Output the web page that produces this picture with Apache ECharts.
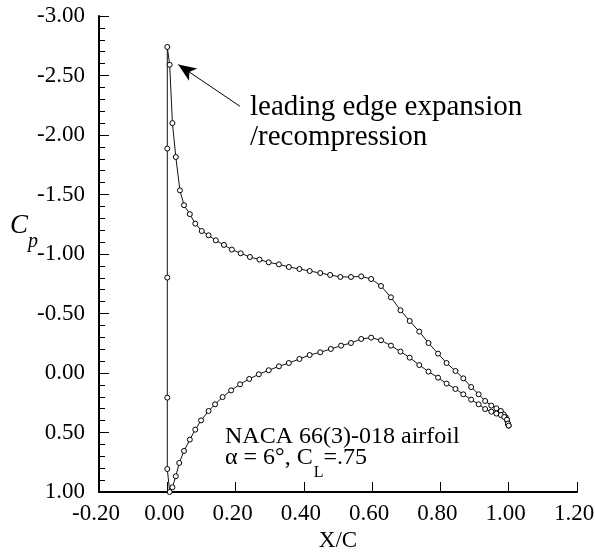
<!DOCTYPE html>
<html>
<head>
<meta charset="utf-8">
<script src="https://cdn.jsdelivr.net/npm/echarts@6/dist/echarts.min.js"></script>
<style>
  html, body { margin: 0; padding: 0; background: #fff; }
  #chart { width: 595px; height: 552px; }
</style>
</head>
<body>
<div id="chart"></div>
<script>
// Surface pressure coefficient, NACA 66(3)-018 at 6 deg.
// Upper surface, from just aft of the leading edge to the trailing edge.
const upperX = [0.007, 0.015, 0.025, 0.037, 0.049, 0.066, 0.082, 0.101, 0.121, 0.142,
  0.166, 0.189, 0.215, 0.242, 0.270, 0.297, 0.327, 0.356, 0.387, 0.417,
  0.448, 0.477, 0.507, 0.538, 0.568, 0.597, 0.626, 0.655, 0.683, 0.710,
  0.738, 0.765, 0.793, 0.818, 0.844, 0.867, 0.890, 0.912, 0.931, 0.949,
  0.964, 0.977, 0.985, 0.991, 0.995, 0.998, 1.000];
const upperCp = [-2.59, -2.10, -1.815, -1.535, -1.41, -1.335, -1.255, -1.193, -1.157, -1.115,
  -1.076, -1.037, -1.006, -0.975, -0.953, -0.930, -0.913, -0.891, -0.874, -0.857,
  -0.840, -0.824, -0.807, -0.807, -0.812, -0.790, -0.731, -0.636, -0.527, -0.437,
  -0.348, -0.252, -0.163, -0.084, -0.017, 0.045, 0.118, 0.179, 0.235, 0.274,
  0.297, 0.319, 0.347, 0.370, 0.398, 0.431, 0.442];

// Nose panels (x/c ~ 0), from the suction peak down to the stagnation region.
const noseX = [0, 0, 0, 0, 0];
const noseCp = [-2.74, -1.886, -0.802, 0.207, 0.807];

// Lower surface, from the stagnation point to the trailing edge.
const lowerX = [0.007, 0.015, 0.025, 0.035, 0.049, 0.066, 0.082, 0.099, 0.121, 0.140,
  0.162, 0.187, 0.213, 0.240, 0.268, 0.297, 0.327, 0.356, 0.387, 0.417,
  0.448, 0.479, 0.509, 0.538, 0.568, 0.597, 0.626, 0.655, 0.683, 0.710,
  0.738, 0.765, 0.793, 0.818, 0.844, 0.867, 0.890, 0.912, 0.931, 0.949,
  0.964, 0.977, 0.987, 0.995, 0.998, 1.000];
const lowerCp = [1.00, 0.96, 0.868, 0.756, 0.655, 0.560, 0.476, 0.398, 0.319, 0.263,
  0.202, 0.146, 0.095, 0.050, 0.011, -0.023, -0.056, -0.084, -0.118, -0.151,
  -0.174, -0.202, -0.230, -0.252, -0.286, -0.297, -0.275, -0.230, -0.180, -0.129,
  -0.067, -0.012, 0.039, 0.089, 0.134, 0.179, 0.224, 0.263, 0.303, 0.325,
  0.341, 0.353, 0.370, 0.392, 0.425, 0.442];

// Arrow annotation: tail and tip in data units.
const arrowFrom = [0.213, -2.241];
const arrowTo = [0.032, -2.592];

const FONT = '"Liberation Serif", "Times New Roman", serif';

// Closed loop: trailing edge -> upper surface -> nose -> lower surface -> trailing edge
const loop = [];
for (let i = upperX.length - 1; i >= 0; i--) loop.push([upperX[i], upperCp[i]]);
for (let i = 0; i < noseX.length; i++) loop.push([noseX[i], noseCp[i]]);
for (let i = 0; i < lowerX.length; i++) loop.push([lowerX[i], lowerCp[i]]);

const fmt = v => (Math.abs(v) < 1e-9 ? 0 : v).toFixed(2);

// Text placed by its baseline
function txt(x, baseline, str, size, italic) {
  return {
    type: 'text', x: x, y: baseline - 0.3375 * size, silent: true,
    style: {
      text: str, fontSize: size, fontFamily: FONT,
      fontStyle: italic ? 'italic' : 'normal',
      fill: '#000', align: 'left', verticalAlign: 'middle'
    }
  };
}
const measure = (str, size) => {
  const ctx = document.createElement('canvas').getContext('2d');
  ctx.font = size + 'px ' + FONT;
  return ctx.measureText(str).width;
};

const capX = 225;
const capMain = 'α = 6°, C';
const wMain = measure(capMain, 24);
const wSub = measure('L', 16);

const chart = echarts.init(document.getElementById('chart'), null, { renderer: 'canvas' });
chart.setOption({
  animation: false,
  backgroundColor: '#fff',
  grid: { left: 99, right: 18, top: 16, bottom: 60, containLabel: false, outerBoundsMode: 'none' },
  xAxis: {
    type: 'value', min: -0.2, max: 1.2, interval: 0.2,
    name: 'X/C', nameLocation: 'middle', nameGap: 37,
    nameTextStyle: { fontFamily: FONT, fontSize: 23, color: '#000' },
    axisLine: { show: true, onZero: false, lineStyle: { color: '#000', width: 2 } },
    axisTick: { show: true, inside: true, length: 10, lineStyle: { color: '#000', width: 1 } },
    minorTick: { show: false },
    splitLine: { show: false },
    axisLabel: { fontFamily: FONT, fontSize: 23, color: '#000', margin: 10,
      padding: [0, 6, 0, 0], formatter: fmt }
  },
  yAxis: {
    type: 'value', inverse: true, min: -3, max: 1, interval: 0.5,
    axisLine: { show: true, onZero: false, lineStyle: { color: '#000', width: 2 } },
    axisTick: { show: true, inside: true, length: 10, lineStyle: { color: '#000', width: 1 } },
    minorTick: { show: true, splitNumber: 5, length: 6, lineStyle: { color: '#000', width: 1 } },
    splitLine: { show: false },
    axisLabel: { fontFamily: FONT, fontSize: 23, color: '#000', margin: 14,
      padding: [10, 0, 0, 0], formatter: fmt }
  },
  series: [{
    type: 'line',
    data: loop,
    clip: false,
    showSymbol: true, showAllSymbol: true,
    symbol: 'circle', symbolSize: 5,
    itemStyle: { color: '#fff', borderColor: '#000', borderWidth: 1 },
    lineStyle: { color: '#111', width: 1 },
    emphasis: { disabled: true },
    markLine: {
      silent: true, animation: false,
      label: { show: false },
      lineStyle: { color: '#000', width: 1, type: 'solid' },
      data: [[
        { coord: arrowFrom, symbol: 'none' },
        { coord: arrowTo, symbol: 'arrow', symbolSize: [11, 18] }
      ]]
    }
  }],
  graphic: [
    txt(10, 235, 'C', 27, true),
    txt(28, 248, 'p', 20, true),
    txt(250, 117, 'leading edge expansion', 29),
    txt(250, 147, '/recompression', 29),
    txt(capX, 445, 'NACA 66(3)-018 airfoil', 24),
    txt(capX, 466, capMain, 24),
    txt(capX + wMain + 1, 478, 'L', 16),
    txt(capX + wMain + 1 + wSub, 466, '=.75', 24)
  ]
});
</script>
</body>
</html>
